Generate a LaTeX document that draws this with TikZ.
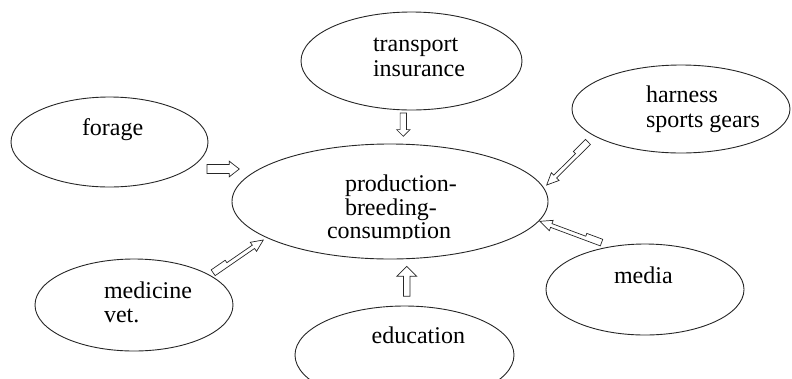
\documentclass[tikz,border=0pt]{standalone}
\usepackage{fontspec}
\setmainfont{LiberationSerif}[Extension=.ttf, UprightFont=*-Regular, BoldFont=*-Bold,
  ItalicFont=*-Italic, BoldItalicFont=*-BoldItalic]
\usetikzlibrary{shapes.geometric,calc}

\tikzset{
  bubble/.style={ellipse, draw=black!85, line width=0.9pt, inner sep=0pt, outer sep=0pt},
  hollow/.style={draw=black!85, line width=0.7pt, line join=miter},
  txt/.style={anchor=base west, inner sep=0pt, outer sep=0pt, text=black,
              font=\rmfamily\fontsize{24}{24.7}\selectfont},
}

% multi-line label whose baseline is the baseline of its first line
\newcommand\lines[1]{\begin{tabular}[t]{@{}l@{}}#1\end{tabular}}

% straight hollow block arrow: tail, tip, shaft half width, head half width, head length
\newcommand\blockarrow[5]{%
  \draw[hollow] let \p1=(#1), \p2=(#2), \n1={atan2(\y2-\y1,\x2-\x1)} in
    ($(\p1)+(\n1+90:#3)$)
    -- ($(\p2)+(\n1:-#5)+(\n1+90:#3)$)
    -- ($(\p2)+(\n1:-#5)+(\n1+90:#4)$)
    -- (\p2)
    -- ($(\p2)+(\n1:-#5)+(\n1+270:#4)$)
    -- ($(\p2)+(\n1:-#5)+(\n1+270:#3)$)
    -- ($(\p1)+(\n1+270:#3)$)
    -- cycle;
}

% hollow arrow whose tail part is wider on one side (90 = left, -90 = right)
\newcommand\jogarrow[3]{%
  \draw[hollow] let \p1=(#1), \p2=(#2), \n1={atan2(\y2-\y1,\x2-\x1)} in
    ($(\p1)+(\n1+#3+180:2pt)$)
    -- ($(\p2)+(\n1:-12pt)+(\n1+#3+180:2pt)$)
    -- ($(\p2)+(\n1:-12pt)+(\n1+#3+180:5.5pt)$)
    -- (\p2)
    -- ($(\p2)+(\n1:-12pt)+(\n1+#3:5.5pt)$)
    -- ($(\p2)+(\n1:-12pt)+(\n1+#3:2pt)$)
    -- ($(\p1)+(\n1:17pt)+(\n1+#3:2pt)$)
    -- ($(\p1)+(\n1:17pt)+(\n1+#3:5pt)$)
    -- ($(\p1)+(\n1+#3:5pt)$)
    -- cycle;
}

\begin{document}
\begin{tikzpicture}[x=1pt, y=-1pt]
  \useasboundingbox (0,0) rectangle (792,378);

  % ellipses
  \node[bubble, minimum width=316pt, minimum height=115pt] (core)      at (390,201.5) {};
  \node[bubble, minimum width=221pt, minimum height=98pt]  (transport) at (411.5,61)  {};
  \node[bubble, minimum width=218pt, minimum height=88pt]  (harness)   at (681,109)   {};
  \node[bubble, minimum width=197pt, minimum height=90pt]  (forage)    at (109.5,142) {};
  \node[bubble, minimum width=198pt, minimum height=92pt]  (medicine)  at (134,305)   {};
  \node[bubble, minimum width=198pt, minimum height=91pt]  (media)     at (645,289.5) {};
  \node[bubble, minimum width=219pt, minimum height=98pt]  (education) at (404.5,355) {};

  % arrow end points
  \coordinate (forage-tail)    at (207,169);
  \coordinate (forage-tip)     at (239.3,169);
  \coordinate (transport-tail) at (403.3,113);
  \coordinate (transport-tip)  at (403.3,136.3);
  \coordinate (education-tail) at (406.7,296.3);
  \coordinate (education-tip)  at (406.7,266.3);
  \coordinate (harness-tail)   at (589,143);
  \coordinate (harness-tip)    at (546.7,185);
  \coordinate (media-tail)     at (601,244);
  \coordinate (media-tip)      at (540,221.3);
  \coordinate (medicine-tail)  at (214,274);
  \coordinate (medicine-tip)   at (263.3,240);

  % arrows
  \blockarrow{forage-tail}{forage-tip}{4.5pt}{7.8pt}{10pt}
  \blockarrow{transport-tail}{transport-tip}{3.2pt}{6.7pt}{6.7pt}
  \blockarrow{education-tail}{education-tip}{3.3pt}{10pt}{10pt}
  \jogarrow{harness-tail}{harness-tip}{-90}
  \jogarrow{media-tail}{media-tip}{-90}
  \jogarrow{medicine-tail}{medicine-tip}{90}

  % labels
  \node[txt] (forage-text)    at (82,135)     {forage};
  \node[txt] (transport-text) at (373,51.7)   {\lines{transport\\insurance}};
  \node[txt] (harness-text)   at (646,102.7)  {\lines{harness\\sports gears}};
  \node[txt] (medicine-text)  at (104,298)    {\lines{medicine\\vet.}};
  \node[txt] (media-text)     at (614,283)    {media};
  \node[txt] (education-text) at (371.7,343)  {education};
  \begin{scope}
    \clip (300,150) rectangle (480,238.3);
    \node[txt, font=\rmfamily\fontsize{24}{23.3}\selectfont] (core-text) at (327,191.7)
      {\lines{\hspace*{18pt}production-\\\hspace*{18pt}breeding-\\consumption}};
  \end{scope}
\end{tikzpicture}
\end{document}
